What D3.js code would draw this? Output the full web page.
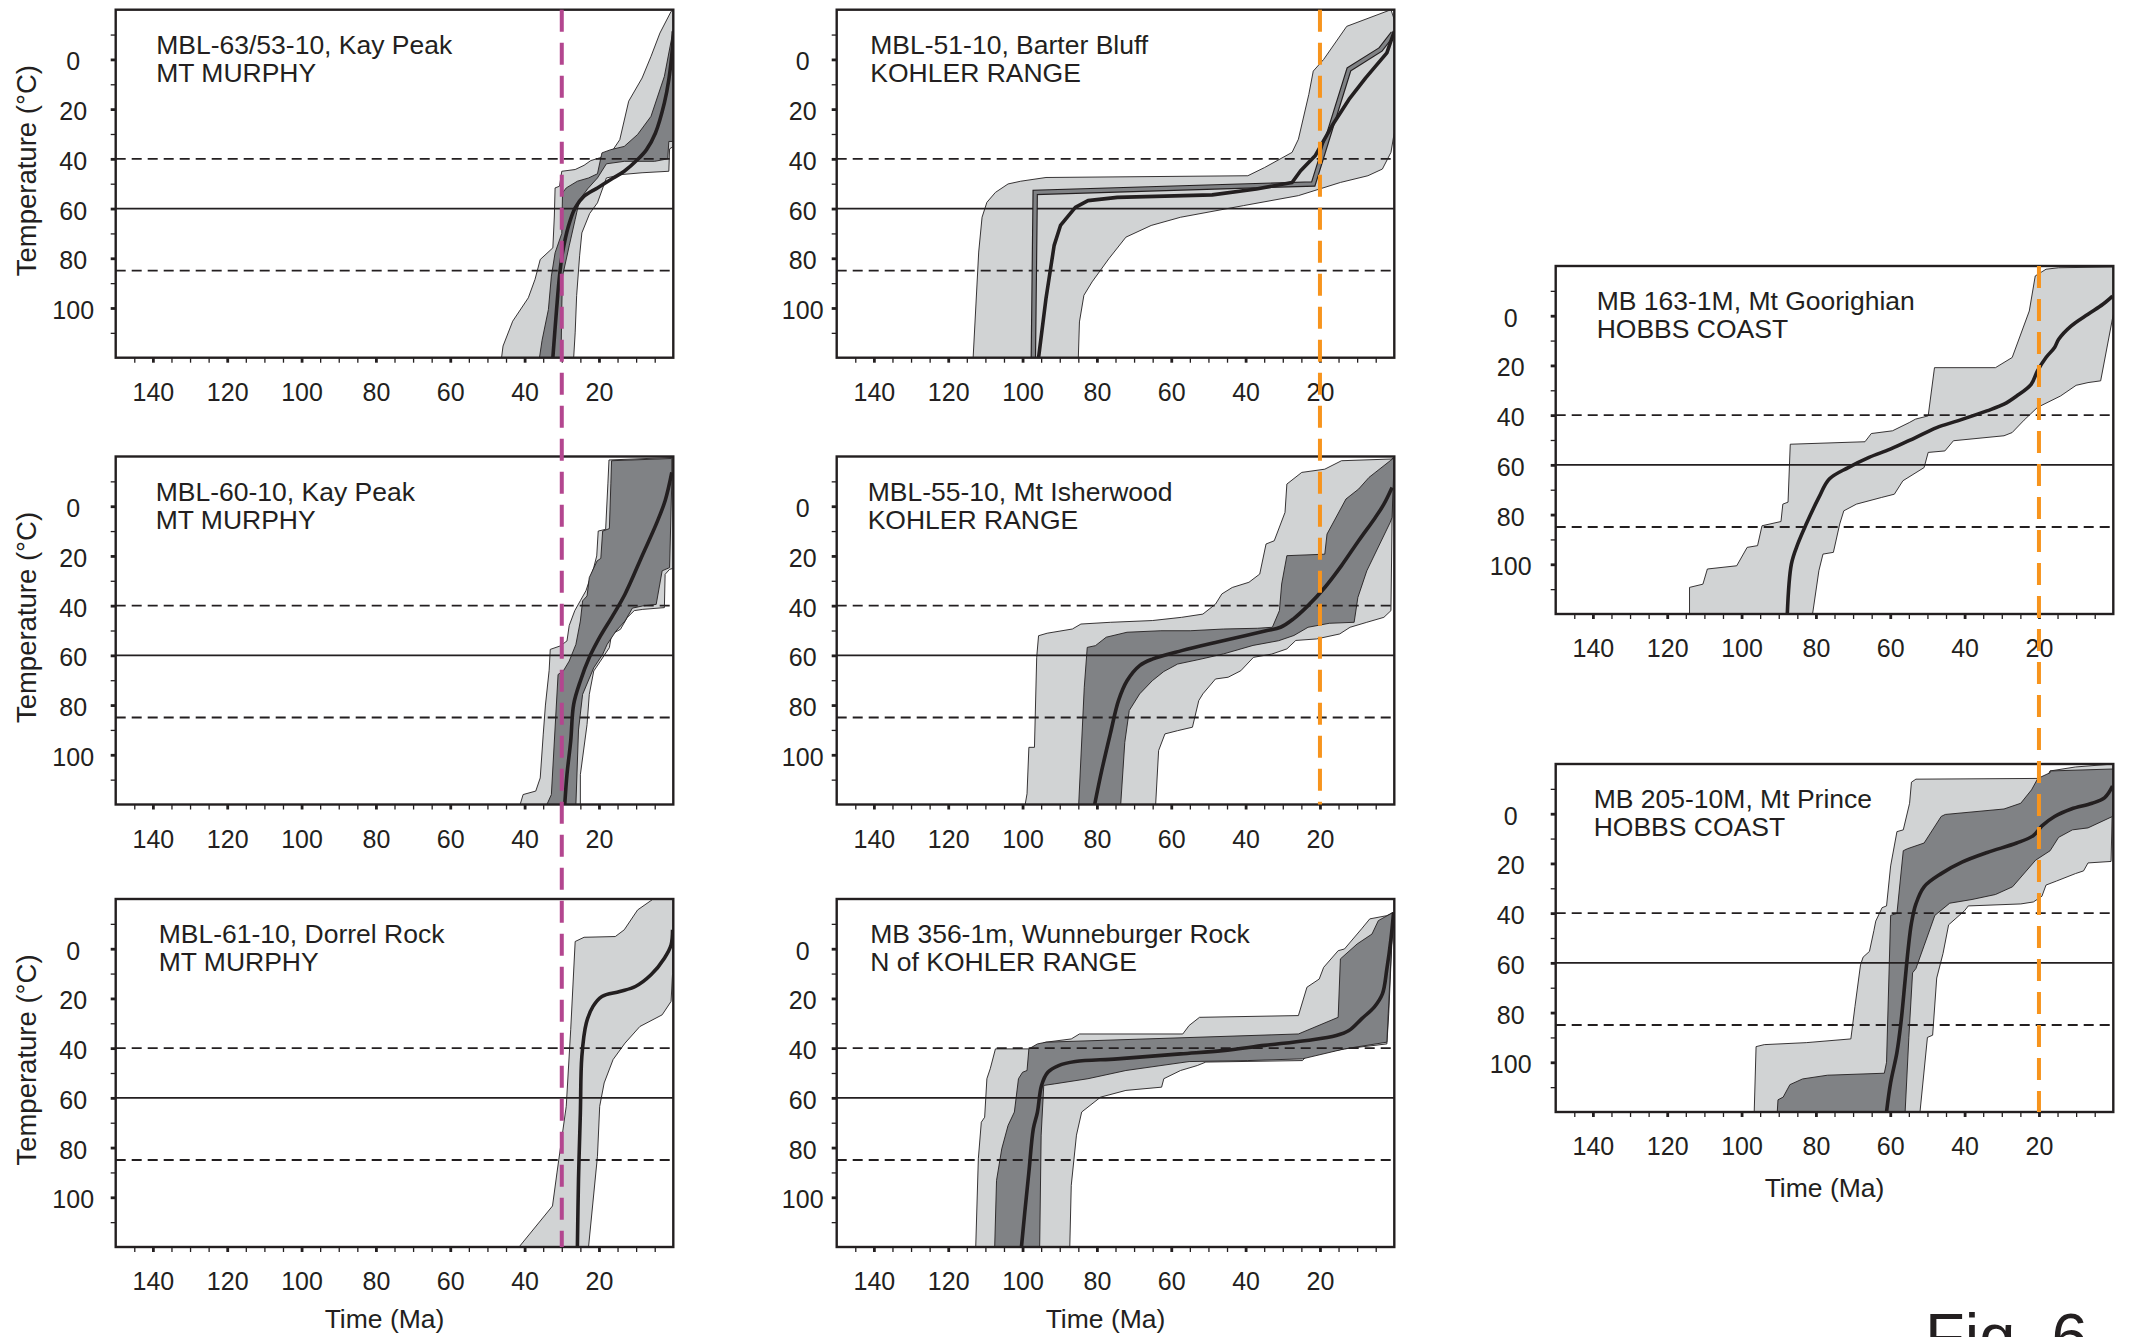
<!DOCTYPE html>
<html><head><meta charset="utf-8">
<script src="https://cdn.jsdelivr.net/npm/d3@7"></script>
<style>
body{margin:0;background:#fff}
svg{display:block}
text{font-family:"Liberation Sans",Arial,Helvetica,sans-serif;fill:#231f20}
</style>
</head><body>
<svg id="chart" width="2129" height="1337"></svg>
<script>
// ---------------- DATA (time in Ma, temperature in °C) ----------------
const xTickLabels = [140, 120, 100, 80, 60, 40, 20];
const yTickLabels = [0, 20, 40, 60, 80, 100];
const dashedRefTemps = [40, 85];
const solidRefTemps = [60];
const purpleAge = 30;   // Mt Murphy marker
const orangeAge = 20;   // Kohler Range / Hobbs Coast marker

const titles = [
  ["MBL-63/53-10, Kay Peak", "MT MURPHY"],
  ["MBL-51-10, Barter Bluff", "KOHLER RANGE"],
  ["MBL-60-10, Kay Peak", "MT MURPHY"],
  ["MBL-55-10, Mt Isherwood", "KOHLER RANGE"],
  ["MBL-61-10, Dorrel Rock", "MT MURPHY"],
  ["MB 356-1m, Wunneburger Rock", "N of KOHLER RANGE"],
  ["MB 163-1M, Mt Goorighian", "HOBBS COAST"],
  ["MB 205-10M, Mt Prince", "HOBBS COAST"]
];

// Panel 1: MBL-63/53-10
const p1Light = [[46.2,120],[45.8,115.3],[43.2,105.3],[39,95.9],[37.2,88.5],[35.8,80.5],[32.4,75.8],[32,63],[31.8,51.7],[30.6,51],[30,45],[26.4,44.3],[24,42.6],[22.2,40.7],[19.8,39.6],[16.2,36.3],[14.4,32.3],[12,16.8],[8.4,7.5],[6,-1.2],[3.6,-10.6],[0.6,-19.3],[0,-20],[0,35],[1,36],[1.2,45],[8.4,45.6],[13.8,46.3],[18,47.7],[20.4,57.7],[22.5,62],[24.6,69.8],[25.2,79],[26,95],[26.4,110],[26.8,120]];
const p1Dark = [[36,120],[35.3,113],[33.6,100.6],[32.8,87.2],[31.8,77.8],[30,70],[29.8,53.7],[28.8,51.7],[25.8,49],[22.8,47.7],[20.4,46],[19.2,37.6],[16.8,36.3],[13.2,35],[9.6,30.2],[6,22.9],[2.4,6.8],[0,-12],[0,33],[1.2,33],[1.5,40],[5,41],[13.2,41],[18,42],[20.4,47.7],[23,52],[25.2,56.4],[26.4,64.4],[28,75],[29.8,87.2],[30,100],[30.2,120]];
const p1Best = [[32.4,120],[31.4,100.6],[30.6,87],[29.8,77.8],[28.2,67],[26.4,59.7],[24,55],[20.4,51.7],[16.8,48.3],[13.2,45],[9.6,40.3],[7.2,36.3],[4.8,29.6],[2.4,17.5],[1.2,8.1],[0.2,-5.3],[0,-11.3]];

// Panel 2: MBL-51-10
const p2Light = [[113.3,120],[111.8,77.5],[110.9,63.5],[109.6,57.5],[107.3,53.5],[103.9,50.1],[100.5,49],[93.7,47.5],[39.4,46.8],[34.9,43.5],[27.5,37.4],[25.8,32.1],[23,14.1],[21.8,4.7],[19,0],[12.8,-13.3],[0.9,-20],[0,-16],[0,29.4],[0.9,37.4],[3.2,44.1],[7.1,46.8],[14.5,49.5],[25.8,54.8],[40.5,58.8],[57.5,63.5],[65.4,66.8],[72.2,71.5],[76.8,80.2],[81.3,89.5],[83.5,94.9],[84.7,105.6],[85,120]];
const p2Alt = [[97.1,120],[96.6,53.5],[21.8,50.1],[12.2,4],[3.7,-4],[0.3,-10.6]];
const p2Best = [[95.7,120],[93.7,96.2],[91.5,74.8],[89.8,66.8],[85.8,59.5],[82.4,56.8],[74.5,55.5],[49,54.5],[37.1,52.1],[27.5,49.5],[25.2,44.8],[21.3,38.8],[16.8,26.8],[12.2,16.1],[7.7,7.4],[2,-2.6],[0,-11.3]];

// Panel 3: MBL-60-10
const p3Light = [[41.2,120],[40.4,116],[37,114.6],[35.8,109.3],[35,92],[34.4,80],[33.4,66],[33.1,57.6],[30.4,56.2],[28.6,54.2],[28,48],[26.5,42],[25,38],[23.5,34],[22.6,30],[21.4,24.7],[20.6,20],[20.2,10],[18.2,9.3],[17.6,-9],[17.3,-18.6],[0.3,-19.6],[0,-19.8],[0,25],[1,25.4],[2.2,27.4],[2.4,40.8],[8.2,41.5],[10.5,42],[12.4,44.8],[14.2,49.5],[16.6,51.5],[17.2,56.9],[19.6,62.3],[21.4,66.3],[22.6,75.7],[23.2,87.8],[25,108],[25,120]];
const p3Dark = [[34,120],[32.8,116],[31,67.7],[29.6,66.3],[28,62.3],[26.2,55.6],[25,46.2],[24.4,38.1],[23.2,36.1],[22.6,28.7],[20.5,22],[19.5,21],[19,10],[17.2,9],[16.8,-9],[16.6,-18.3],[0.4,-19.2],[0.4,-10],[1,24.7],[3,26],[4.6,39.5],[8.2,40.1],[11,41],[13,46.2],[15.4,50.2],[17.8,55.6],[19,59.6],[21.4,65],[24.4,75.7],[25.5,90],[26.2,120]];
const p3Best = [[29.2,120],[28.6,107.9],[27.6,94.5],[26.8,79.7],[25,70.3],[22.6,60.9],[19.6,52.2],[16.6,44.8],[13,35.4],[8.2,19.3],[4.6,7.2],[2.2,-2.2],[0.4,-13.6]];

// Panel 4: MBL-55-10
const p4Light = [[99.3,120],[98.8,115.7],[98.3,97],[96.8,97],[96.2,60.8],[95.7,52.1],[93.4,51.1],[86.6,49.4],[84.3,47.4],[76.4,46.7],[65.1,46],[57.2,44.7],[51.5,43.4],[48.1,39.4],[46.4,35.3],[43.6,32.7],[39.1,30.6],[36.2,27.3],[34.5,15.2],[32.3,13.9],[29.4,2.5],[28.9,-8.9],[24.9,-13.6],[18.7,-14.9],[14.2,-18.3],[0.6,-19],[0.4,-19.5],[0.9,42],[2.8,44.7],[7.4,46.7],[11.9,48.7],[14.7,51.4],[20.9,53.4],[26.5,54],[28.9,57.4],[33,59.5],[37.9,60.8],[41.3,66.2],[44.7,68.8],[48.1,69.5],[51.5,75.5],[52.6,78.2],[54.3,88.9],[58.3,90.3],[61.7,91.6],[63.4,98.3],[64.2,120]];
const p4Dark = [[84.9,120],[83.4,72.8],[82.6,56.8],[80.4,56.1],[77.5,52.7],[71.9,50.7],[62.8,50.1],[54.9,50.1],[45.9,49.4],[36.8,49.1],[32.8,48.7],[30.9,42],[30.3,31.3],[28.9,19.9],[18.7,19.3],[18.1,11.2],[13,-2.9],[11.9,-4.2],[9.6,-6.9],[6.8,-11.6],[1.1,-18.3],[0,-19.6],[0.6,4.5],[1.1,6.5],[7.4,26],[9.8,36.7],[10.8,46.7],[17.5,47.1],[23.2,48.7],[27,52],[31.1,54.1],[38,56],[45.9,59.4],[52,61.5],[58.3,63.5],[62,66.5],[65.1,70.2],[68.5,75.5],[71.3,82.2],[72.5,95],[73.6,120]];
const p4Best = [[80.6,120],[78.7,106.3],[76.4,91.6],[74.2,78.2],[71.9,70.2],[68.5,64.1],[65.1,61.5],[57.2,58.1],[48.1,54.8],[40.2,52.1],[34.5,50.1],[30.6,48.7],[27.2,45.4],[23.2,40],[18.7,32.7],[14.2,23.9],[9.6,13.9],[5.1,4.5],[2.8,-0.8],[0.6,-7.5]];

// Panel 5: MBL-61-10
const p5Light = [[41.5,120],[32.5,103.5],[31.3,90.2],[29.8,74.1],[28.8,63.4],[27.6,32.6],[26.4,-2.9],[24,-4.6],[15.6,-4.9],[13.2,-7.6],[9.6,-15.6],[5.4,-20],[0.6,-20],[0,-19.6],[0.2,10],[0.6,21.2],[3,26.6],[9,31.3],[13,38],[16.2,44.6],[18.6,54],[19.8,63.4],[20.4,83.5],[22.8,120]];
const p5Best = [[25.8,120],[25.5,92.8],[25,66.1],[24.6,43.3],[23.4,29.9],[21.6,23.2],[19.2,19.2],[14.4,17.2],[10.2,15.2],[6,10.5],[2.4,3.8],[0.6,-1.5],[0.2,-7.6]];

// Panel 6: MB 356-1m
const p6Light = [[112.6,120],[111.9,84.5],[111.1,69.8],[110.2,67.8],[109.6,52.3],[108.7,48.3],[107.3,40.3],[98.3,40.3],[93.7,37.6],[86.9,36.3],[84.7,34.3],[56.9,34.3],[55.2,30.9],[52.4,27.6],[25.8,26.9],[23.5,15.5],[20.2,12.2],[19,7.5],[15.1,0.8],[13.4,0.1],[8.8,-8],[6.6,-12],[2,-13.3],[0.3,-14.6],[1.5,26.2],[2,38.3],[13.4,40.3],[23.5,43],[24.7,45],[50.7,45.6],[53,47],[57.5,49],[62,52.3],[62.6,55.7],[72.2,57],[79,59.7],[84.1,65.7],[85.5,75],[86.9,95.2],[87.3,120]];
const p6Dark = [[107.5,120],[107,93.2],[105.6,80.5],[103.9,71.1],[102.2,65.7],[101.1,52.3],[100,49.7],[98.8,49],[98.3,40.3],[96,38.3],[93.7,37.6],[25.8,34.3],[15.1,27.6],[14.5,4.1],[10,-1.9],[6,-5.9],[4.3,-11.3],[0.3,-14.6],[2,37.6],[13.4,40.3],[24.7,44.3],[39.4,45],[55.2,45.4],[72.2,49],[82.4,52.3],[91.5,54.4],[94.3,55],[95,75],[95.4,120]];
const p6Best = [[100.3,120],[99.4,106],[98.3,89.9],[97.1,72.4],[96,65.7],[94.9,55],[93.2,49.7],[90.3,47],[85.8,45.4],[74.5,44.3],[57.5,42.3],[46.2,41],[34.9,38.9],[23.5,36.9],[15.6,34.9],[12.2,32.9],[8.8,28.2],[5.4,23.5],[3.2,18.2],[2,8.1],[0.9,-3.9],[0.2,-14.6]];

// Panel 7: MB 163-1M
const p7Light = [[114,120],[114,109.3],[110.4,108],[109.2,101.9],[101.3,100.6],[98.5,93.2],[95.7,92.5],[94.5,84.5],[89.4,82.8],[88.9,75.8],[87.5,75],[86.9,51.7],[66.8,50.7],[65.1,47.4],[59.4,46.3],[54.9,43],[53.2,41.6],[49.8,40.3],[48.1,20.9],[31.7,20.9],[27.2,16.8],[22.6,-1.9],[21,-16],[18.1,-18.7],[14.7,-19.3],[0,-19.6],[0,-0.6],[3.4,26.2],[6.8,26.9],[10,28],[14.2,32.3],[20.4,36.9],[24,42],[27.2,47],[29.4,48.3],[43,50.3],[45.3,54.4],[49.8,55],[50.9,61.1],[56.6,66.4],[58.9,71.8],[62.3,73.1],[69.1,75.8],[72.5,78.5],[73.6,83.8],[75.3,95.2],[78.1,95.9],[79.2,102.6],[80.9,120]];
const p7Best = [[87.7,120],[86.6,99.9],[84.9,91.9],[82.6,83.8],[79.2,73.1],[76.4,65.7],[71.3,61.1],[65.7,57],[60,53.7],[53.2,49],[47.5,45],[41.9,42.3],[34,38.3],[29.4,35.6],[26,32.3],[22.1,27.6],[20.4,22.2],[18.1,16.8],[15.8,12.8],[14.7,9.5],[11.3,4.1],[6.8,-0.6],[2.8,-4.6],[0.2,-7.9]];

// Panel 8: MB 205-10M
const p8Light = [[96.6,120],[96.1,93.7],[93.9,92.9],[82.6,92.1],[70.6,90.6],[69.5,77.6],[68,60.8],[67.3,57.7],[65.6,55.4],[64.4,47],[63.9,43.2],[62.2,37.8],[61,37.1],[59.9,21],[58.2,7.2],[56.5,6.5],[54.8,-4.2],[54.3,-12.7],[53.1,-13.9],[19.8,-14.2],[17.5,-15.7],[17,-17.2],[10.2,-18.8],[0,-20],[0.6,19.2],[6.8,19.8],[8,23],[10.2,24.1],[15.3,27.1],[18.1,28.7],[19.2,33.2],[21.5,35.5],[24.9,36.3],[39,37.1],[40,39],[44.3,44.7],[45.8,56.2],[47.5,66.1],[48.6,89.1],[50,90],[52,120]];
const p8Dark = [[90.4,120],[90.2,115.1],[88.8,114],[87,109],[83.6,106.7],[76.9,105.2],[61.6,104.4],[61,100],[59.9,40.9],[58.2,40.1],[56.5,14.9],[55.4,14.1],[50.9,11.8],[46.3,1.1],[45.2,0.3],[29.4,-1.9],[24.9,-4.2],[22,-9.6],[20.3,-14.2],[17,-16.5],[17,-17.2],[0,-18],[0.2,1.1],[6.8,5.7],[11,6.5],[14.7,9.5],[17,14.9],[20.9,18.7],[27.1,29.4],[31.7,32.5],[38,34.5],[44,36],[48,40.9],[50.9,53.1],[53.1,62.3],[54,64],[55,90],[56,120]];
const p8Best = [[61,120],[59.9,108.2],[58.2,96],[57.1,83.7],[56,66.9],[55.2,54.7],[54.3,44],[53.1,36.3],[50.9,29.4],[46.3,24.1],[40.7,19.5],[33.9,15.6],[26,11.8],[21.5,8.8],[19.2,4.9],[15.8,1.1],[11.3,-1.9],[5.7,-4.2],[2.3,-6.5],[0.2,-11.1]];

// ---------------- LAYOUT / STYLE ----------------
const PW = 557.6, PH = 348;
const C1 = 115.7, C2 = 836.7, C3 = 1555.7;
const R1 = 9.7, R2 = 456.5, R3 = 899, RA = 266, RB = 764;
const panels = [
  {title: titles[0], light: p1Light, dark: p1Dark, best: p1Best, x: C1, y: R1, tdx: 40.5, ylab: 42.5, temp: true},
  {title: titles[1], light: p2Light, alt: p2Alt, best: p2Best, x: C2, y: R1, tdx: 33.6, ylab: 34, linear: true},
  {title: titles[2], light: p3Light, dark: p3Dark, best: p3Best, x: C1, y: R2, tdx: 40, ylab: 42.5, temp: true},
  {title: titles[3], light: p4Light, dark: p4Dark, best: p4Best, x: C2, y: R2, tdx: 31, ylab: 34},
  {title: titles[4], light: p5Light, best: p5Best, x: C1, y: R3, tdx: 43, ylab: 42.5, temp: true, time: 81},
  {title: titles[5], light: p6Light, dark: p6Dark, best: p6Best, x: C2, y: R3, tdx: 33.6, ylab: 34, time: 81},
  {title: titles[6], light: p7Light, best: p7Best, x: C3, y: RA, tdx: 41, ylab: 45},
  {title: titles[7], light: p8Light, dark: p8Dark, best: p8Best, x: C3, y: RB, tdx: 38, ylab: 45, time: 85}
];

const INK = "#231f20", LIGHT = "#d1d3d4", DARK = "#808285";
const svg = d3.select("#chart");
const defs = svg.append("defs");

function scalesFor(p) {
  return {
    x: d3.scaleLinear().domain([150, 0]).range([p.x, p.x + PW]),
    y: d3.scaleLinear().domain([-20, 120]).range([p.y, p.y + PH])
  };
}

panels.forEach((p, i) => {
  const {x, y} = scalesFor(p);
  const g = svg.append("g");
  const cid = "clip" + i;
  defs.append("clipPath").attr("id", cid).append("rect")
    .attr("x", p.x).attr("y", p.y).attr("width", PW).attr("height", PH);
  const body = g.append("g").attr("clip-path", `url(#${cid})`);
  const ring = d3.line().x(d => x(d[0])).y(d => y(d[1]));

  if (p.light) body.append("path").attr("d", ring(p.light) + "Z")
    .attr("fill", LIGHT).attr("stroke", INK).attr("stroke-width", 0.9).attr("stroke-linejoin", "round");
  if (p.dark) body.append("path").attr("d", ring(p.dark) + "Z")
    .attr("fill", DARK).attr("stroke", INK).attr("stroke-width", 0.9).attr("stroke-linejoin", "round");

  // reference isotherms
  body.selectAll(".dref").data(dashedRefTemps).join("line")
    .attr("x1", p.x).attr("x2", p.x + PW).attr("y1", d => y(d)).attr("y2", d => y(d))
    .attr("stroke", INK).attr("stroke-width", 1.8).attr("stroke-dasharray", "10,6");
  body.selectAll(".sref").data(solidRefTemps).join("line")
    .attr("x1", p.x).attr("x2", p.x + PW).attr("y1", d => y(d)).attr("y2", d => y(d))
    .attr("stroke", INK).attr("stroke-width", 1.8);

  const curve = p.linear ? d3.curveLinear : d3.curveCatmullRom.alpha(0.5);
  const path = d3.line().x(d => x(d[0])).y(d => y(d[1])).curve(curve);
  if (p.alt) {
    body.append("path").attr("d", path(p.alt)).attr("fill", "none")
      .attr("stroke", INK).attr("stroke-width", 5.5).attr("stroke-linejoin", "miter");
    body.append("path").attr("d", path(p.alt)).attr("fill", "none")
      .attr("stroke", "#808285").attr("stroke-width", 3.2).attr("stroke-linejoin", "miter");
  }
  body.append("path").attr("d", path(p.best)).attr("fill", "none")
    .attr("stroke", INK).attr("stroke-width", 3.6).attr("stroke-linejoin", "round");

  // axes
  const xa = d3.axisBottom(x).tickValues(d3.range(5, 150, 5)).tickSize(5)
    .tickFormat(d => xTickLabels.includes(d) ? d : "");
  const gx = g.append("g").attr("transform", `translate(0,${p.y + PH})`).call(xa)
    .attr("font-size", null).attr("font-family", null);
  gx.select(".domain").remove();
  gx.selectAll("line").attr("stroke", INK).attr("stroke-width", d => d % 20 === 0 ? 2.8 : 1.3);
  gx.selectAll("text").attr("y", 43).attr("dy", null).style("font-size", "25px").attr("fill", INK);

  const ya = d3.axisLeft(y).tickValues(d3.range(-10, 120, 10)).tickSize(5)
    .tickFormat(d => yTickLabels.includes(d) ? d : "");
  const gy = g.append("g").attr("transform", `translate(${p.x},0)`).call(ya)
    .attr("font-size", null).attr("font-family", null);
  gy.select(".domain").remove();
  gy.selectAll("line").attr("stroke", INK).attr("stroke-width", d => d % 20 === 0 ? 2.8 : 1.3);
  gy.selectAll("text").attr("x", -p.ylab).attr("dy", "0.42em").attr("text-anchor", "middle")
    .style("font-size", "25px").attr("fill", INK);

  // frame
  g.append("rect").attr("x", p.x).attr("y", p.y).attr("width", PW).attr("height", PH)
    .attr("fill", "none").attr("stroke", INK).attr("stroke-width", 2.4);

  // title
  const t = g.append("text").attr("x", p.x + p.tdx).attr("y", p.y + 44).style("font-size", "26.5px");
  t.append("tspan").text(p.title[0]);
  t.append("tspan").attr("x", p.x + p.tdx).attr("dy", 28.4).text(p.title[1]);

  if (p.temp) {
    const cy = p.y + PH / 2 - 13;
    g.append("text").attr("transform", `translate(26,${cy}) rotate(-90)`)
      .attr("text-anchor", "middle").attr("dominant-baseline", "central")
      .style("font-size", "27.5px").text("Temperature (°C)");
  }
  if (p.time) {
    g.append("text").attr("x", p.x + PW / 2 - 10).attr("y", p.y + PH + p.time)
      .attr("text-anchor", "middle").style("font-size", "26.5px").text("Time (Ma)");
  }
});

// vertical age markers spanning several panels
const markers = [
  {age: purpleAge, panel: 0, y0: R1, y1: R3 + PH, color: "#b3468f"},
  {age: orangeAge, panel: 1, y0: R1, y1: R2 + PH, color: "#f7941d"},
  {age: orangeAge, panel: 6, y0: RA, y1: RB + PH, color: "#f7941d"}
];
markers.forEach(m => {
  const {x} = scalesFor(panels[m.panel]);
  svg.append("line").attr("x1", x(m.age)).attr("x2", x(m.age)).attr("y1", m.y0).attr("y2", m.y1)
    .attr("stroke", m.color).attr("stroke-width", 4).attr("stroke-dasharray", "22,11");
});

// figure label, partly cut by the lower edge as in the original
svg.append("text").attr("x", 1925).attr("y", 1359).style("font-size", "65px").text("Fig. 6");
</script>
</body></html>
